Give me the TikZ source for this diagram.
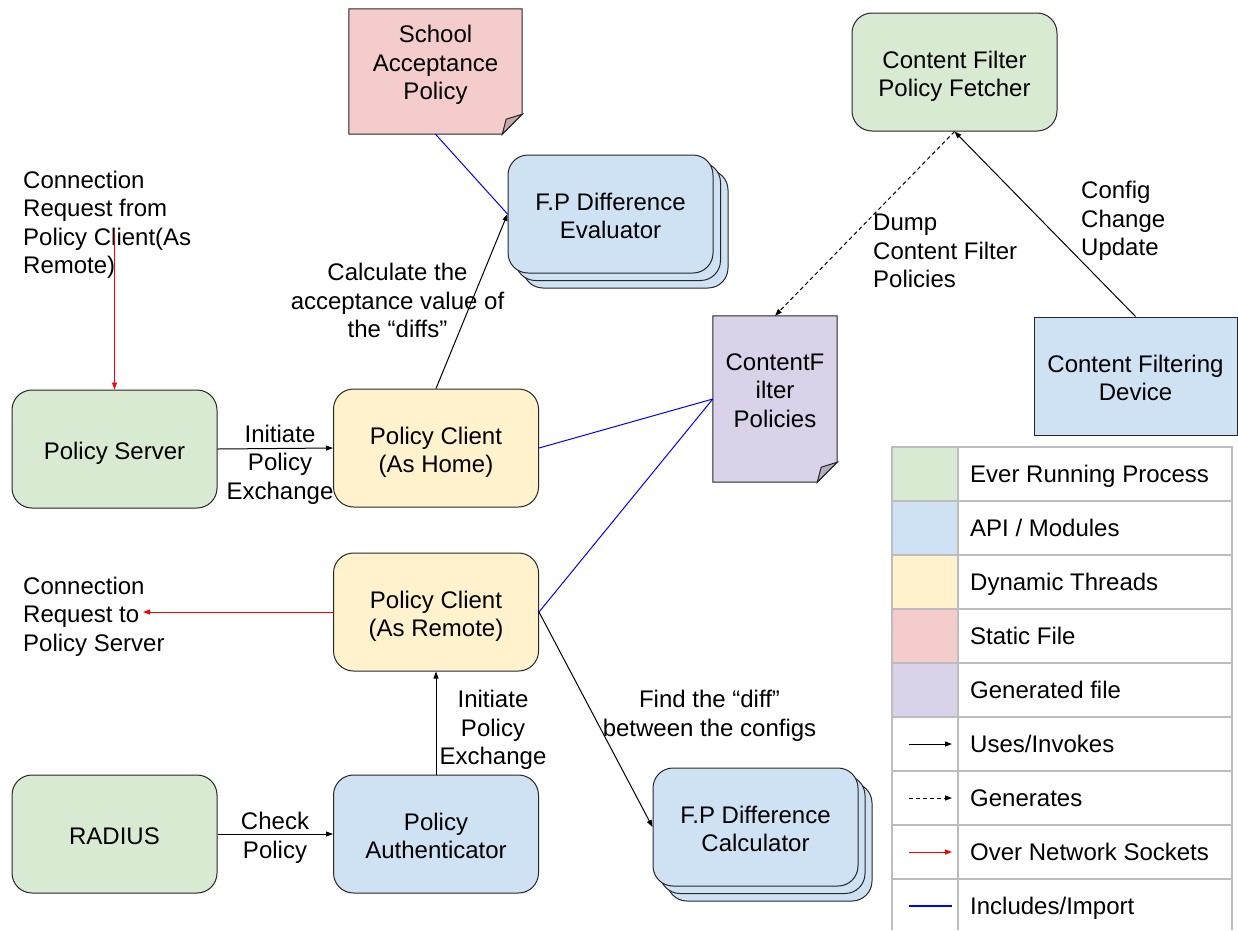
\documentclass[tikz,border=0pt]{standalone}
\usepackage{fontspec}
\setmainfont{Liberation Sans}
\usetikzlibrary{arrows.meta,backgrounds}

\definecolor{procgreen}{HTML}{D9EAD3}
\definecolor{apiblue}{HTML}{CFE2F3}
\definecolor{threadyellow}{HTML}{FFF2CC}
\definecolor{staticred}{HTML}{F4CCCC}
\definecolor{genpurple}{HTML}{D9D2E9}
\definecolor{staticfold}{HTML}{C9A7A7}
\definecolor{genfold}{HTML}{B4AEC4}
\definecolor{gridgray}{HTML}{BDBDBD}
\definecolor{netred}{HTML}{FF0000}
\definecolor{incblue}{HTML}{0000FF}

\begin{document}
\begin{tikzpicture}[x=1pt,y=-1pt,
  every node/.style={font=\fontsize{24}{28.5}\selectfont, inner sep=0pt},
  % fixed text box heights (ascent of first line to descent of last line)
  l1/.style={text height=25.7pt, text depth=5.1pt},
  l2/.style={text height=54.2pt, text depth=5.1pt},
  l3/.style={text height=82.7pt, text depth=5.1pt},
  l4/.style={text height=111.2pt, text depth=5.1pt},
  box/.style={l1, draw=black!85, line width=1pt, rounded corners=20pt,
    minimum width=205pt, minimum height=118pt, align=center},
  procbox/.style={box, fill=procgreen},
  apibox/.style={box, fill=apiblue},
  threadbox/.style={box, fill=threadyellow},
  plainbox/.style={l1, draw=black!85, line width=1pt, fill=apiblue,
    minimum width=203pt, minimum height=118pt, align=center},
  lbl/.style={align=center},
  lbll/.style={align=left, anchor=west},
  uses/.style={draw=black, line width=1pt, -{Triangle[length=7pt,width=5pt]}},
  gens/.style={uses, dash pattern=on 4pt off 3pt},
  netarrow/.style={draw=netred, line width=1pt, -{Triangle[length=7pt,width=5pt]}},
  includes/.style={draw=incblue, line width=1pt},
  grid line/.style={draw=gridgray, line width=1.5pt},
]
\useasboundingbox (0,0) rectangle (1238,930);

% ---------- processes, threads and modules ----------
\node[procbox] (ps) at (114.5,449) {Policy Server};
\node[procbox] (radius) at (114.5,834) {RADIUS};
\node[procbox, l2] (fetcher) at (954.5,72) {Content Filter\\Policy Fetcher};
\node[threadbox, l2] (home) at (436,448) {Policy Client\\(As Home)};
\node[threadbox, l2] (remote) at (436,612) {Policy Client\\(As Remote)};
\node[apibox, l2] (auth) at (436,834) {Policy\\Authenticator};
\node[plainbox, l2] (device) at (1135.5,376) {Content Filtering\\Device};

% stacked module: evaluator
\node[apibox] (evalback2) at (625.5,229) {};
\node[apibox] (evalback1) at (618,221.5) {};
\node[apibox, l2] (eval) at (610.5,214) {F.P Difference\\Evaluator};

% stacked module: calculator
\node[apibox] (calcback2) at (769.5,842) {};
\node[apibox] (calcback1) at (762.5,834.5) {};
\node[apibox, l2] (calc) at (755.5,827) {F.P Difference\\Calculator};

% ---------- files with a folded corner ----------
\node[minimum width=173pt, minimum height=125pt,
  label={[l3,align=center,yshift=10.5pt]center:{School\\Acceptance\\Policy}}] (school) at (435.5,71.5) {};
\node[minimum width=124pt, minimum height=166pt,
  label={[l3,align=center,yshift=10.5pt]center:{ContentF\\ilter\\Policies}}] (cfp) at (775,399) {};

\begin{scope}[on background layer]
  \draw[line width=1pt, draw=black!85, fill=staticred]
    (school.north west) -- (school.north east) -- ([yshift=20pt]school.south east)
    -- ([xshift=-20pt]school.south east) -- (school.south west) -- cycle;
  \draw[line width=1pt, draw=black!85, fill=staticfold]
    ([yshift=20pt]school.south east) -- ([xshift=-20pt]school.south east)
    -- ([xshift=-16pt,yshift=15pt]school.south east) -- cycle;
  \draw[line width=1pt, draw=black!85, fill=genpurple]
    (cfp.north west) -- (cfp.north east) -- ([yshift=20pt]cfp.south east)
    -- ([xshift=-20pt]cfp.south east) -- (cfp.south west) -- cycle;
  \draw[line width=1pt, draw=black!85, fill=genfold]
    ([yshift=20pt]cfp.south east) -- ([xshift=-20pt]cfp.south east)
    -- ([xshift=-16pt,yshift=15pt]cfp.south east) -- cycle;
\end{scope}

% ---------- connector labels ----------
\node[lbl, l3] (lblpx1) at (280,460.5) {Initiate\\Policy\\Exchange};
\node[lbl, l2] (lblchk) at (275,833.5) {Check\\Policy};
\node[lbl, l3] (lblpx2) at (493,726) {Initiate\\Policy\\Exchange};
\node[lbll, l3] (lblto) at (23,612.5) {Connection\\Request to\\Policy Server};
\node[lbll, l4] (lblfrom) at (23,220.5) {Connection\\Request from\\Policy Client(As\\Remote)};
\node[lbl, l3] (lblcalc) at (397.5,299) {Calculate the\\acceptance value of\\the “diffs”};
\node[lbl, l2] (lblfind) at (709.5,711.5) {Find the “diff”\\between the configs};
\node[lbll, l3] (lbldump) at (873,249) {Dump\\Content Filter\\Policies};
\node[lbll, l3] (lblcfg) at (1081,217) {Config\\Change\\Update};

% ---------- connectors ----------
\coordinate (netin) at (114.5,232);
\coordinate (netout) at (143,612);
\draw[netarrow] (netin) -- (ps.north);
\draw[netarrow] (remote.west) -- (netout);
\draw[uses] (ps.east) -- (home.west);
\draw[uses] (radius.east) -- (auth.west);
\draw[uses] (auth.north) -- (remote.south);
\draw[uses] (home.north) -- (eval.west);
\draw[uses] (remote.east) -- (calc.west);
\draw[uses] (device.north) -- (fetcher.south);
\draw[gens] (fetcher.south) -- (cfp.north);
\draw[includes] (school.south) -- (eval.west);
\draw[includes] (home.east) -- (cfp.west);
\draw[includes] (remote.east) -- (cfp.west);

% ---------- legend ----------
\foreach \k/\c in {0/procgreen,1/apiblue,2/threadyellow,3/staticred,4/genpurple}
  \fill[\c] (892,447+54*\k) rectangle (958,501+54*\k);
\foreach \k in {0,...,8}
  \draw[grid line] (892,447+54*\k) -- (1232,447+54*\k);
\foreach \x in {892,958,1232}
  \draw[grid line] (\x,446.25) -- (\x,930);
\foreach \k/\t in {0/{Ever Running Process},1/{API / Modules},2/{Dynamic Threads},
    3/{Static File},4/{Generated file},5/{Uses/Invokes},6/{Generates},
    7/{Over Network Sockets},8/{Includes/Import}}
  \node[l1, anchor=west] (leg\k) at (970,472.5+54*\k) {\t};
\foreach \k in {5,...,8} {
  \coordinate (legs\k) at (909,474+54*\k);
  \coordinate (lege\k) at (952,474+54*\k);
}
\draw[uses] (legs5) -- (lege5);
\draw[gens] (legs6) -- (lege6);
\draw[netarrow] (legs7) -- (lege7);
\draw[includes, line width=2pt] (legs8) -- (lege8);
\end{tikzpicture}
\end{document}
